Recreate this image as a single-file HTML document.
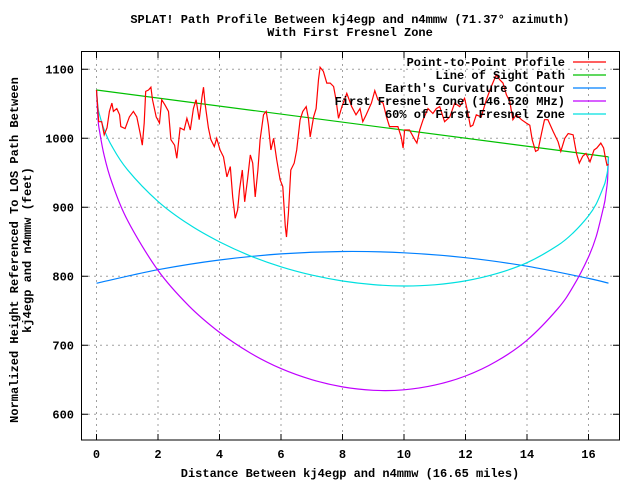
<!DOCTYPE html>
<html><head><meta charset="utf-8"><style>
body{margin:0;background:#fff;}
svg{display:block;font-family:"Liberation Mono","DejaVu Sans Mono",monospace;font-weight:bold;}
</style></head><body>
<svg id="chart" width="640" height="480" viewBox="0 0 640 480" xmlns="http://www.w3.org/2000/svg">
<rect width="640" height="480" fill="#fff"/>
<text x="350" y="23" font-size="12" text-anchor="middle">SPLAT! Path Profile Between kj4egp and n4mmw (71.37° azimuth)</text>
<text x="350" y="36" font-size="12" text-anchor="middle">With First Fresnel Zone</text>
<text font-size="12" text-anchor="middle" transform="translate(18,250) rotate(-90)"><tspan x="0" y="0">Normalized Height Referenced To LOS Path Between</tspan><tspan x="0" y="13">kj4egp and n4mmw (feet)</tspan></text>
<text x="350" y="477" font-size="12" text-anchor="middle">Distance Between kj4egp and n4mmw (16.65 miles)</text>
<g id="grid"></g><g id="ticks"></g><g id="series"></g>
<rect x="81.5" y="51.5" width="538" height="388.5" fill="none" stroke="#000" stroke-width="1"/>
<g id="legend"></g>
</svg>
<script>
const xTicks=[0,2,4,6,8,10,12,14,16];
const yTicks=[600,700,800,900,1000,1100];
const profileX=[0,0.07,0.17,0.25,0.34,0.42,0.5,0.55,0.66,0.75,0.79,0.93,1.07,1.2,1.31,1.42,1.49,1.55,1.6,1.69,1.77,1.82,1.94,2.05,2.12,2.23,2.34,2.42,2.54,2.61,2.72,2.85,2.94,3.05,3.15,3.24,3.34,3.43,3.48,3.53,3.64,3.72,3.83,3.91,4.02,4.13,4.24,4.35,4.43,4.51,4.59,4.65,4.74,4.82,4.91,5.0,5.08,5.16,5.25,5.32,5.43,5.52,5.59,5.67,5.76,5.86,5.97,6.06,6.14,6.18,6.24,6.32,6.43,6.51,6.62,6.71,6.82,6.89,6.95,7.06,7.14,7.22,7.27,7.38,7.49,7.6,7.71,7.79,7.87,7.98,8.14,8.3,8.44,8.57,8.66,8.77,8.94,9.05,9.15,9.32,9.43,9.53,9.64,9.8,9.91,9.97,10.02,10.18,10.35,10.42,10.51,10.62,10.78,10.94,11.05,11.16,11.32,11.49,11.65,11.81,11.97,12.08,12.16,12.24,12.35,12.51,12.68,12.84,13.0,13.11,13.22,13.33,13.44,13.54,13.65,13.82,13.98,14.09,14.17,14.28,14.36,14.47,14.57,14.68,14.85,15.01,15.1,15.23,15.34,15.5,15.61,15.7,15.81,15.92,16.05,16.18,16.27,16.4,16.49,16.54,16.6,16.65];
const profileY=[1070,1024,1024,1005,1015,1039,1051,1039,1043,1034,1017,1014,1031,1039,1031,1007,990,1022,1068,1070,1074,1056,1031,1022,1056,1048,1039,998,990,971,1015,1012,1029,1012,1043,1056,1027,1060,1074,1051,1015,998,988,1000,983,973,944,959,915,884,896,925,954,908,940,976,964,915,954,998,1034,1039,1019,983,1000,969,940,930,872,857,891,954,964,983,1027,1039,1046,1029,1002,1031,1043,1085,1103,1097,1080,1080,1075,1056,1029,1046,1065,1046,1034,1043,1024,1034,1051,1069,1056,1051,1031,1017,1017,1017,1002,986,1012,1012,998,993,1012,1027,1043,1036,1043,1046,1024,1031,1051,1046,1058,1036,1017,1019,1034,1031,1056,1075,1092,1085,1080,1063,1053,1027,1034,1027,1022,1019,998,981,983,1007,1027,1027,1010,995,981,1000,1007,1005,978,964,974,978,966,983,986,993,986,974,961,962];
const losX=[0,16.65];
const losY=[1070,973];
const curveX=[0,2,4,6,8,10,12,14,16,16.65];
const curveY=[790,809.5,823.6,832.4,835.9,834.1,827,814.6,796.9,790];
const zoneX=[0,0.05,0.1,0.25,0.5,1,2,3,4,5,6,7,8,9,10,11,12,13,14,15,15.5,16,16.25,16.5,16.55,16.6,16.62,16.65];
const fresnelY=[1070,1027.7,1010.1,975,936,881.7,808.6,757.3,718.7,688.9,666.3,650.2,639.7,634.8,635.5,642.3,655.5,676.6,707.4,753.1,785,828,857.7,902.4,914.3,931.3,940.6,973];
const fresnel60Y=[1070,1044.5,1033.8,1012.5,988.5,954.8,908.5,875.3,849.9,829.6,813.8,801.8,793.2,787.9,785.9,787.7,793.4,803.8,819.7,844.8,862.9,887.6,904.8,931,938,948.2,953.7,973];
const legendLabels=["Point-to-Point Profile","Line of Sight Path","Earth's Curvature Contour","First Fresnel Zone (146.520 MHz)","60% of First Fresnel Zone"];

const NS="http://www.w3.org/2000/svg";
const sx=v=>96.5+v*30.75;
const sy=v=>69.3+(1100-v)*0.69;
function mk(tag,attrs,parent){const e=document.createElementNS(NS,tag);for(const k in attrs)e.setAttribute(k,attrs[k]);parent.appendChild(e);return e;}
const grid=document.getElementById('grid'),ticks=document.getElementById('ticks'),series=document.getElementById('series'),legend=document.getElementById('legend');
xTicks.forEach(t=>{
  const x=sx(t);
  const g=mk('line',{x1:x,x2:x,y1:52,y2:440,stroke:'#a0a0a0','stroke-dasharray':'2,4'},grid);
  
  
  const tm=mk('path',{d:`M${x},440V434M${x},52V58`,stroke:'#000'},ticks);
  
  
  const l=mk('text',{x:x,y:458,'font-size':12,'text-anchor':'middle'},ticks);
  l.textContent=t;
  
  
});
yTicks.forEach(t=>{
  const y=sy(t);
  const g=mk('line',{x1:82,x2:619,y1:y,y2:y,stroke:'#a0a0a0','stroke-dasharray':'2,4'},grid);
  
  
  const tm=mk('path',{d:`M82,${y}H88M619,${y}H613`,stroke:'#000'},ticks);
  
  
  const l=mk('text',{x:74,y:y+4,'font-size':12,'text-anchor':'end'},ticks);
  l.textContent=t;
  
  
});
function line(xs,ys,color,name,smooth){
  const P=xs.map((x,i)=>[sx(x),sy(ys[i])]);
  let d='M'+P[0][0].toFixed(1)+','+P[0][1].toFixed(1);
  for(let i=1;i<P.length;i++){
    if(smooth){
      const p0=P[Math.max(0,i-2)],p1=P[i-1],p2=P[i],p3=P[Math.min(P.length-1,i+1)];
      const c1=[p1[0]+(p2[0]-p0[0])/6,p1[1]+(p2[1]-p0[1])/6];
      const c2=[p2[0]-(p3[0]-p1[0])/6,p2[1]-(p3[1]-p1[1])/6];
      d+='C'+c1[0].toFixed(1)+','+c1[1].toFixed(1)+' '+c2[0].toFixed(1)+','+c2[1].toFixed(1)+' '+p2[0].toFixed(1)+','+p2[1].toFixed(1);
    } else d+='L'+P[i][0].toFixed(1)+','+P[i][1].toFixed(1);
  }
  const p=mk('path',{d:d,fill:'none',stroke:color,'stroke-width':1.2},series);
  
  
}
line(curveX,curveY,'#0080ff','earth-curvature-line',true);
line(zoneX,fresnelY,'#c000ff','fresnel-zone-line',true);
line(zoneX,fresnel60Y,'#00e0e0','fresnel-60-line',true);
line(losX,losY,'#00c000','line-of-sight-line',false);
line(profileX,profileY,'#ff0000','terrain-profile-line',false);
const legColors=['#ff0000','#00c000','#0080ff','#c000ff','#00e0e0'];
legendLabels.forEach((lab,i)=>{
  const y=62+i*13;
  const t=mk('text',{x:565,y:y+4,'font-size':12,'text-anchor':'end'},legend);
  t.textContent=lab;
  
  
  const l=mk('line',{x1:573,x2:606,y1:y,y2:y,stroke:legColors[i],'stroke-width':1.2},legend);
  
  
});
</script>
</body></html>
